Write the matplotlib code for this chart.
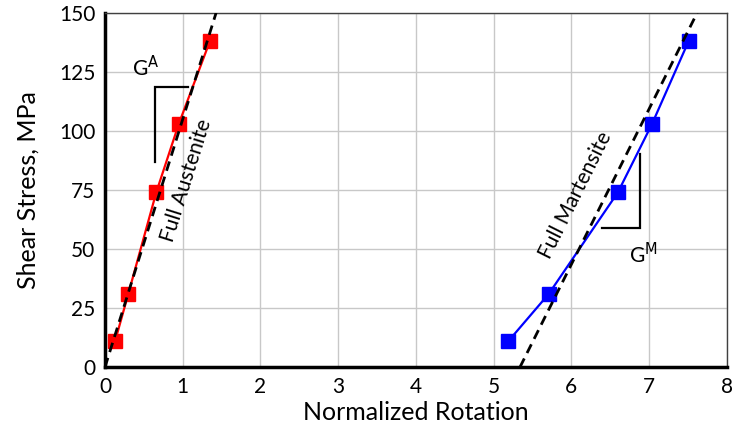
import matplotlib
matplotlib.use("Agg")
import matplotlib.pyplot as plt

aus_rot = [0.13, 0.30, 0.66, 0.95, 1.35]
aus_stress = [11, 31, 74, 103, 138]
mar_rot = [5.19, 5.71, 6.60, 7.04, 7.51]
mar_stress = [11, 31, 74, 103, 138]

# linear fits ("full" phase moduli)
aus_fit_rot = [0.0, 1.43]
aus_fit_stress = [0, 150]
mar_fit_rot = [5.34, 7.62]
mar_fit_stress = [0, 150]

# slope brackets
ga_x = [1.07, 0.64, 0.64]
ga_y = [118.6, 118.6, 86.9]
gm_x = [6.89, 6.89, 6.40]
gm_y = [90.3, 58.9, 58.9]

x_ticks = list(range(0, 9))
y_ticks = [0, 25, 50, 75, 100, 125, 150]

plt.rcParams["font.family"] = ["Lato", "DejaVu Sans"]

fig = plt.figure(figsize=(7.34, 4.44), dpi=100)
ax = fig.add_axes([0.143, 0.173, 0.847, 0.798])

ax.plot(aus_fit_rot, aus_fit_stress, color="black", linestyle=(0, (3.5, 2.2)), linewidth=2.0, zorder=4)
ax.plot(mar_fit_rot, mar_fit_stress, color="black", linestyle=(0, (3.5, 2.2)), linewidth=2.0, zorder=4)
ax.plot(aus_rot, aus_stress, color="#ff0000", linewidth=1.6, marker="s", markersize=10.5, zorder=3)
ax.plot(mar_rot, mar_stress, color="#0000ff", linewidth=1.6, marker="s", markersize=10.5, zorder=3)

ax.plot(ga_x, ga_y, color="black", linewidth=1.6, solid_joinstyle="miter")
ax.plot(gm_x, gm_y, color="black", linewidth=1.6, solid_joinstyle="miter")

ax.text(0.52, 121.5, r"G$^{\mathrm{A}}$", fontsize=15, ha="center", va="bottom")
ax.text(6.93, 53, r"G$^{\mathrm{M}}$", fontsize=15, ha="center", va="top")
ax.text(1.05, 79, "Full Austenite", fontsize=15, rotation=72.5, ha="center", va="center")
ax.text(6.06, 73, "Full Martensite", fontsize=15, rotation=63.5, ha="center", va="center")

ax.set_xlim(0, 8)
ax.set_ylim(0, 150)
ax.set_xticks(x_ticks)
ax.set_yticks(y_ticks)
ax.tick_params(length=0, labelsize=15, pad=7)
ax.grid(color="#c8c8c8", linewidth=1.0)
ax.set_axisbelow(True)
for side in ["top", "right"]:
    ax.spines[side].set_linewidth(1.0)
    ax.spines[side].set_color("#404040")
for side in ["left", "bottom"]:
    ax.spines[side].set_linewidth(2.5)
    ax.spines[side].set_color("black")
ax.set_xlabel("Normalized Rotation", fontsize=18, labelpad=3)
ax.set_ylabel("Shear Stress, MPa", fontsize=18, labelpad=14)

fig.savefig("out.png", dpi=100)
